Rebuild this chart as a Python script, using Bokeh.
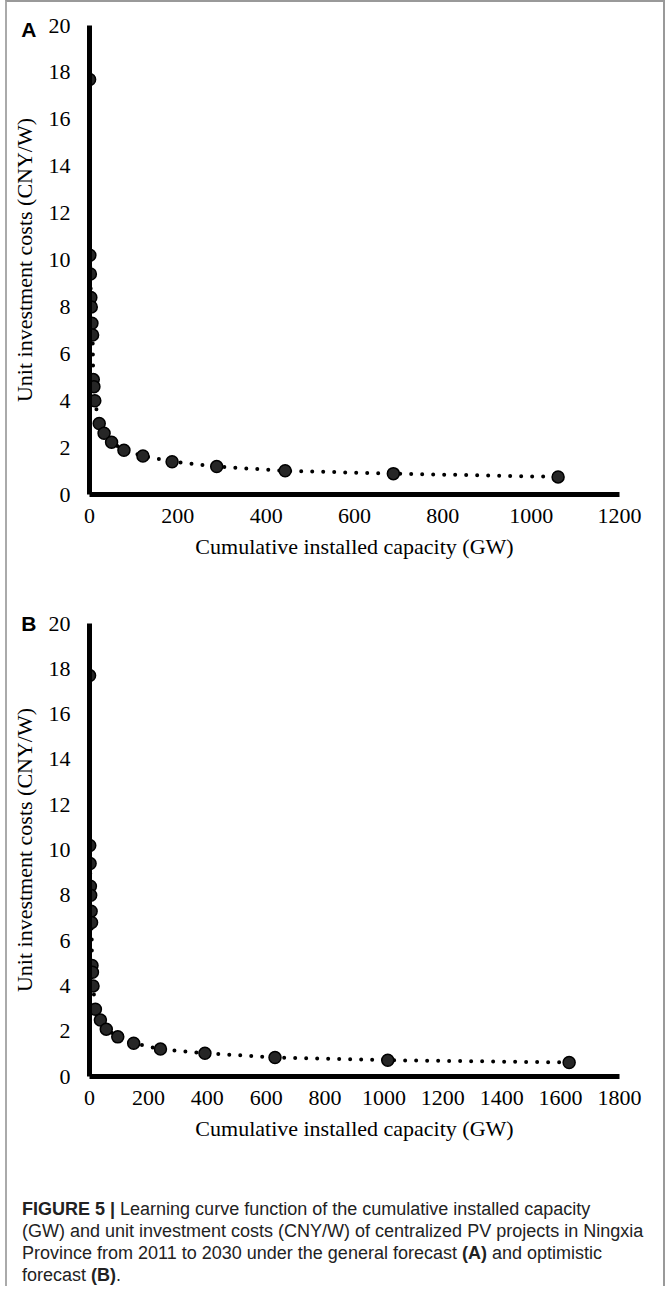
from bokeh.plotting import figure
from bokeh.models import Range1d, Div, FixedTicker, LinearAxis
from bokeh.layouts import column
from bokeh.embed import file_html
from bokeh.resources import INLINE

# ---- data ----
hist_x = [0.2, 0.8, 2.0, 3.0, 4.0, 5.5, 7.0, 8.5, 10.0, 12.0]
hist_y = [17.7, 10.2, 9.4, 8.4, 8.0, 7.3, 6.8, 4.9, 4.6, 4.0]
gen_x = [22, 33, 50, 78, 121, 187, 288, 443, 688, 1061]
gen_y = [3.03, 2.61, 2.23, 1.89, 1.64, 1.40, 1.19, 1.01, 0.89, 0.75]
opt_x = [20, 37, 57, 96, 150, 241, 392, 630, 1013, 1629]
opt_y = [2.97, 2.49, 2.09, 1.75, 1.47, 1.21, 1.03, 0.84, 0.72, 0.62]
y_ticks = list(range(0, 21, 2))
a_xticks = list(range(0, 1201, 200))
b_xticks = list(range(0, 1801, 200))

SERIF = "Liberation Serif"
FS = "22px"


def panel(xs, ys, xmax, xticks, letter, letter_pos, height, top, bottom, right):
    p = figure(width=646, height=height, x_range=Range1d(0, xmax), y_range=Range1d(0, 20),
               output_backend="svg", toolbar_location=None,
               min_border_left=82, min_border_right=right,
               min_border_top=top, min_border_bottom=bottom)
    p.xgrid.visible = False
    p.ygrid.visible = False
    p.outline_line_color = None
    p.background_fill_color = "white"
    p.border_fill_color = "white"

    p.line(xs, ys, line_width=4, line_dash="0 11", line_cap="round", line_color="black")
    p.scatter(xs, ys, size=12, fill_color="#262626", line_color="black", line_width=1.5)

    for ax in (p.xaxis[0], p.yaxis[0]):
        ax.axis_line_width = 5
        ax.axis_line_color = "black"
        ax.major_tick_line_color = None
        ax.minor_tick_line_color = None
        ax.major_tick_out = 0
        ax.major_tick_in = 0
        ax.major_label_text_font = SERIF
        ax.major_label_text_font_size = FS
        ax.major_label_text_color = "black"
        ax.axis_label_text_font = SERIF
        ax.axis_label_text_font_size = FS
        ax.axis_label_text_font_style = "normal"
        ax.axis_label_text_color = "black"

    p.xaxis.ticker = FixedTicker(ticks=xticks)
    p.yaxis.ticker = FixedTicker(ticks=y_ticks)
    p.xaxis.axis_label = "Cumulative installed capacity (GW)"
    p.yaxis.axis_label = "Unit investment costs (CNY/W)"
    p.xaxis.major_label_standoff = 14
    p.yaxis.major_label_standoff = 19
    p.xaxis.axis_label_standoff = 8
    p.yaxis.axis_label_standoff = 9

    # panel letter, carried by an extra (line-less) left axis
    lax = LinearAxis(ticker=FixedTicker(ticks=[letter_pos]),
                     major_label_overrides={letter_pos: letter},
                     axis_line_color=None, major_tick_line_color=None,
                     minor_tick_line_color=None, major_tick_out=0, major_tick_in=0,
                     major_label_standoff=-28,
                     major_label_text_font="Liberation Sans",
                     major_label_text_font_style="bold",
                     major_label_text_font_size="21px",
                     major_label_text_color="black")
    p.add_layout(lax, "left")
    return p


pa = panel(hist_x + gen_x, hist_y + gen_y, 1200, a_xticks, "A", 19.83, 580, 23, 88, 30)
pb = panel(hist_x + opt_x, hist_y + opt_y, 1800, b_xticks, "B", 20, 582, 41, 88, 34)

caption = Div(
    text=("<b>FIGURE 5 |</b> Learning curve function of the cumulative installed capacity<br>"
          "(GW) and unit investment costs (CNY/W) of centralized PV projects in Ningxia<br>"
          "Province from 2011 to 2030 under the general forecast <b>(A)</b> and optimistic<br>"
          "forecast <b>(B)</b>."),
    width=646, height=112,
    styles={"font-family": "'Liberation Sans', Arial, sans-serif", "font-size": "18px",
            "line-height": "22px", "color": "#222", "padding-left": "10px",
            "padding-top": "29px", "white-space": "nowrap", "box-sizing": "border-box"},
)

layout = column(pa, pb, caption, spacing=0,
                styles={"border-top": "2px solid #999", "border-left": "2px solid #aaa",
                        "border-right": "2px solid #999", "margin-left": "5px"})

open("out.html", "w").write(file_html(layout, INLINE))
